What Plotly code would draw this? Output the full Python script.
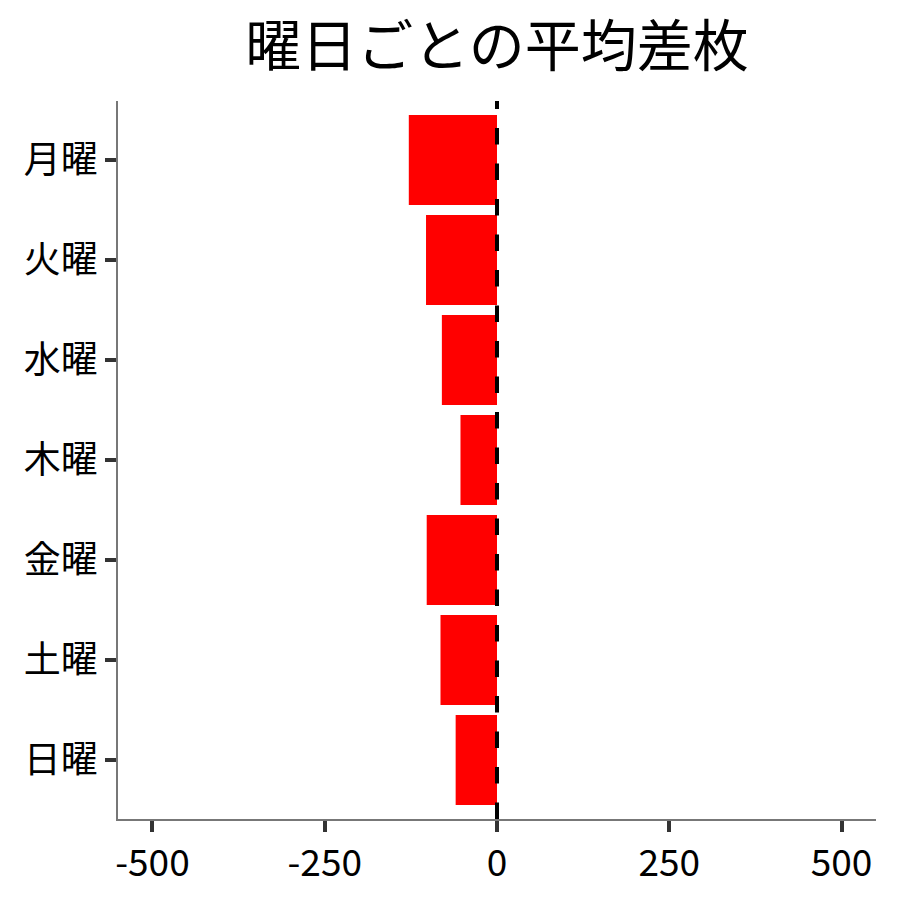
import plotly.graph_objects as go

# 曜日ごとの平均差枚
days = ["月曜", "火曜", "水曜", "木曜", "金曜", "土曜", "日曜"]
avg_diff = [-128, -103, -80, -53, -102, -82, -60]
x_ticks = [-500, -250, 0, 250, 500]
x_tick_text = ["-500", "-250", "0", "250", "500"]

FONT = "Noto Sans CJK JP"

fig = go.Figure()
fig.add_trace(go.Bar(
    x=avg_diff, y=days, orientation="h",
    marker=dict(color="#ff0000", line=dict(width=0)),
    width=0.9,
))

# zero reference line
fig.add_shape(type="line", xref="x", yref="paper", x0=0, x1=0, y0=0, y1=1,
              line=dict(color="black", width=4, dash="16.5px,19px"))

fig.update_layout(
    width=900, height=900,
    template="plotly_white",
    plot_bgcolor="white", paper_bgcolor="white",
    margin=dict(l=110, r=32, t=93, b=89),
    showlegend=False,
    font=dict(family=FONT, color="black"),
    title=dict(text="曜日ごとの平均差枚", x=0.5, xanchor="center", xref="paper",
               y=1 - 38 / 900, yanchor="middle", yref="container",
               font=dict(family=FONT, size=56, color="black")),
    xaxis=dict(range=[-550, 550], tickvals=x_ticks, ticktext=x_tick_text,
               showgrid=False, zeroline=False,
               showline=True, linecolor="#777777", linewidth=1.5,
               ticks="outside", ticklen=11, tickwidth=4, tickcolor="#333333",
               tickfont=dict(family=FONT, size=37, color="black")),
    yaxis=dict(categoryorder="array", categoryarray=days,
               range=[6.59, -0.59],
               showgrid=False, zeroline=False,
               showline=True, linecolor="#777777", linewidth=1.5,
               ticks="outside", ticklen=11, tickwidth=4, tickcolor="#333333",
               tickfont=dict(family=FONT, size=37, color="black")),
)

fig.write_html("out.html")
